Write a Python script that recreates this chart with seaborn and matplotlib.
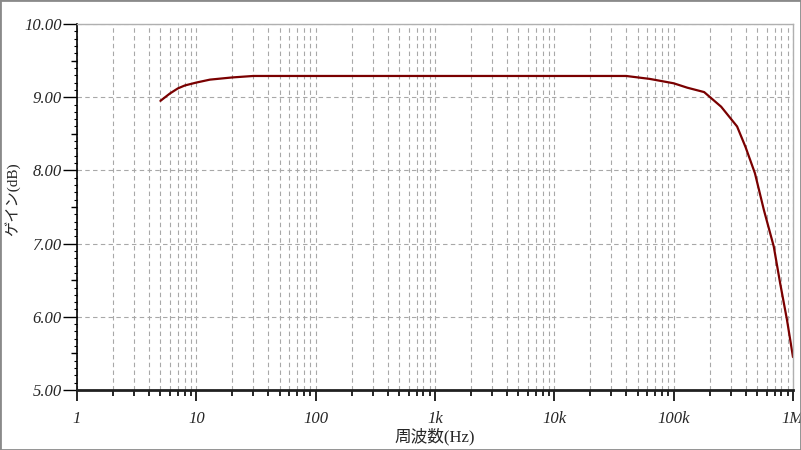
import numpy as np
import pandas as pd
import seaborn as sns
import matplotlib.pyplot as plt
from matplotlib.ticker import FixedLocator, LogLocator, NullFormatter, MultipleLocator
from matplotlib.patches import Rectangle

# frequency response
freq_hz = [5, 6, 7, 8, 10, 13, 20, 30, 100, 1000, 10000, 40000, 63000, 100000,
           130000, 180000, 250000, 300000, 340000, 400000, 480000, 570000,
           690000, 780000, 890000, 1000000]
gain_db = [8.95, 9.05, 9.12, 9.16, 9.20, 9.24, 9.27, 9.29, 9.29, 9.29, 9.29, 9.29, 9.25, 9.19,
           9.13, 9.07, 8.87, 8.71, 8.60, 8.32, 7.96, 7.46,
           6.96, 6.46, 5.96, 5.45]

x_ticks = [1, 10, 100, 1000, 10000, 100000, 1000000]
x_ticklabels = ["1", "10", "100", "1k", "10k", "100k", "1M"]
y_ticks = [5, 6, 7, 8, 9, 10]
y_ticklabels = ["5.00", "6.00", "7.00", "8.00", "9.00", "10.00"]

df = pd.DataFrame({"freq": freq_hz, "gain": gain_db})

sns.set_style("white")
plt.rcParams['font.family'] = ['Liberation Serif', 'Noto Sans CJK JP']

fig = plt.figure(figsize=(8.01, 4.5), dpi=100)
ax = fig.add_axes([77 / 801, 1 - 390 / 450, (793 - 77) / 801, (390 - 24) / 450])

sns.lineplot(data=df, x="freq", y="gain", ax=ax, color="#7a0000", linewidth=1.6)

ax.set_xscale("log")
ax.set_xlim(1, 1e6)
ax.set_ylim(5, 10)

ax.xaxis.set_major_locator(FixedLocator(x_ticks))
ax.set_xticklabels(x_ticklabels, fontsize=12, style="italic")
ax.xaxis.set_minor_locator(LogLocator(base=10, subs=np.arange(2, 10), numticks=20))
ax.xaxis.set_minor_formatter(NullFormatter())

ax.yaxis.set_major_locator(FixedLocator(y_ticks))
ax.set_yticklabels(y_ticklabels, fontsize=12, style="italic")
ax.yaxis.set_minor_locator(MultipleLocator(0.1))

ax.tick_params(axis="x", which="major", bottom=True, direction="out", length=8, width=1.2, color="black", pad=7)
ax.tick_params(axis="x", which="minor", bottom=True, direction="out", length=4, width=1.2, color="black")
ax.tick_params(axis="y", which="major", left=True, direction="out", length=10, width=1.0, color="black", pad=1)
ax.tick_params(axis="y", which="minor", left=True, direction="out", length=2.5, width=0.8, color="black")

# medium ticks at the half units
sec = ax.secondary_yaxis("left")
sec.yaxis.set_major_locator(FixedLocator([5.5, 6.5, 7.5, 8.5, 9.5]))
sec.yaxis.set_major_formatter(NullFormatter())
sec.tick_params(axis="y", left=True, length=4.5, width=1.0, color="black")
sec.spines["left"].set_visible(False)

ax.grid(True, which="major", axis="both", color="#a8a8a8", linestyle=(0, (4, 3)), linewidth=0.8)
ax.grid(True, which="minor", axis="x", color="#a8a8a8", linestyle=(0, (4, 3)), linewidth=0.8)

ax.spines["left"].set_color("black")
ax.spines["left"].set_linewidth(1.2)
ax.spines["bottom"].set_color("#202020")
ax.spines["bottom"].set_linewidth(2.0)
ax.spines["top"].set_color("#b0b0b0")
ax.spines["right"].set_color("#b0b0b0")
ax.spines["top"].set_linewidth(1.0)
ax.spines["right"].set_linewidth(1.0)

ax.set_xlabel("周波数(Hz)", fontsize=12, labelpad=1)
ax.set_ylabel("ゲイン(dB)", fontsize=11)
ax.yaxis.set_label_coords(-0.079, 0.52)

# thin grey frame round the window
fig.patches.append(Rectangle((0, 0), 1, 1, transform=fig.transFigure, fill=False,
                             edgecolor="#8a8a8a", linewidth=2.0))

fig.savefig("out.png", dpi=100)
